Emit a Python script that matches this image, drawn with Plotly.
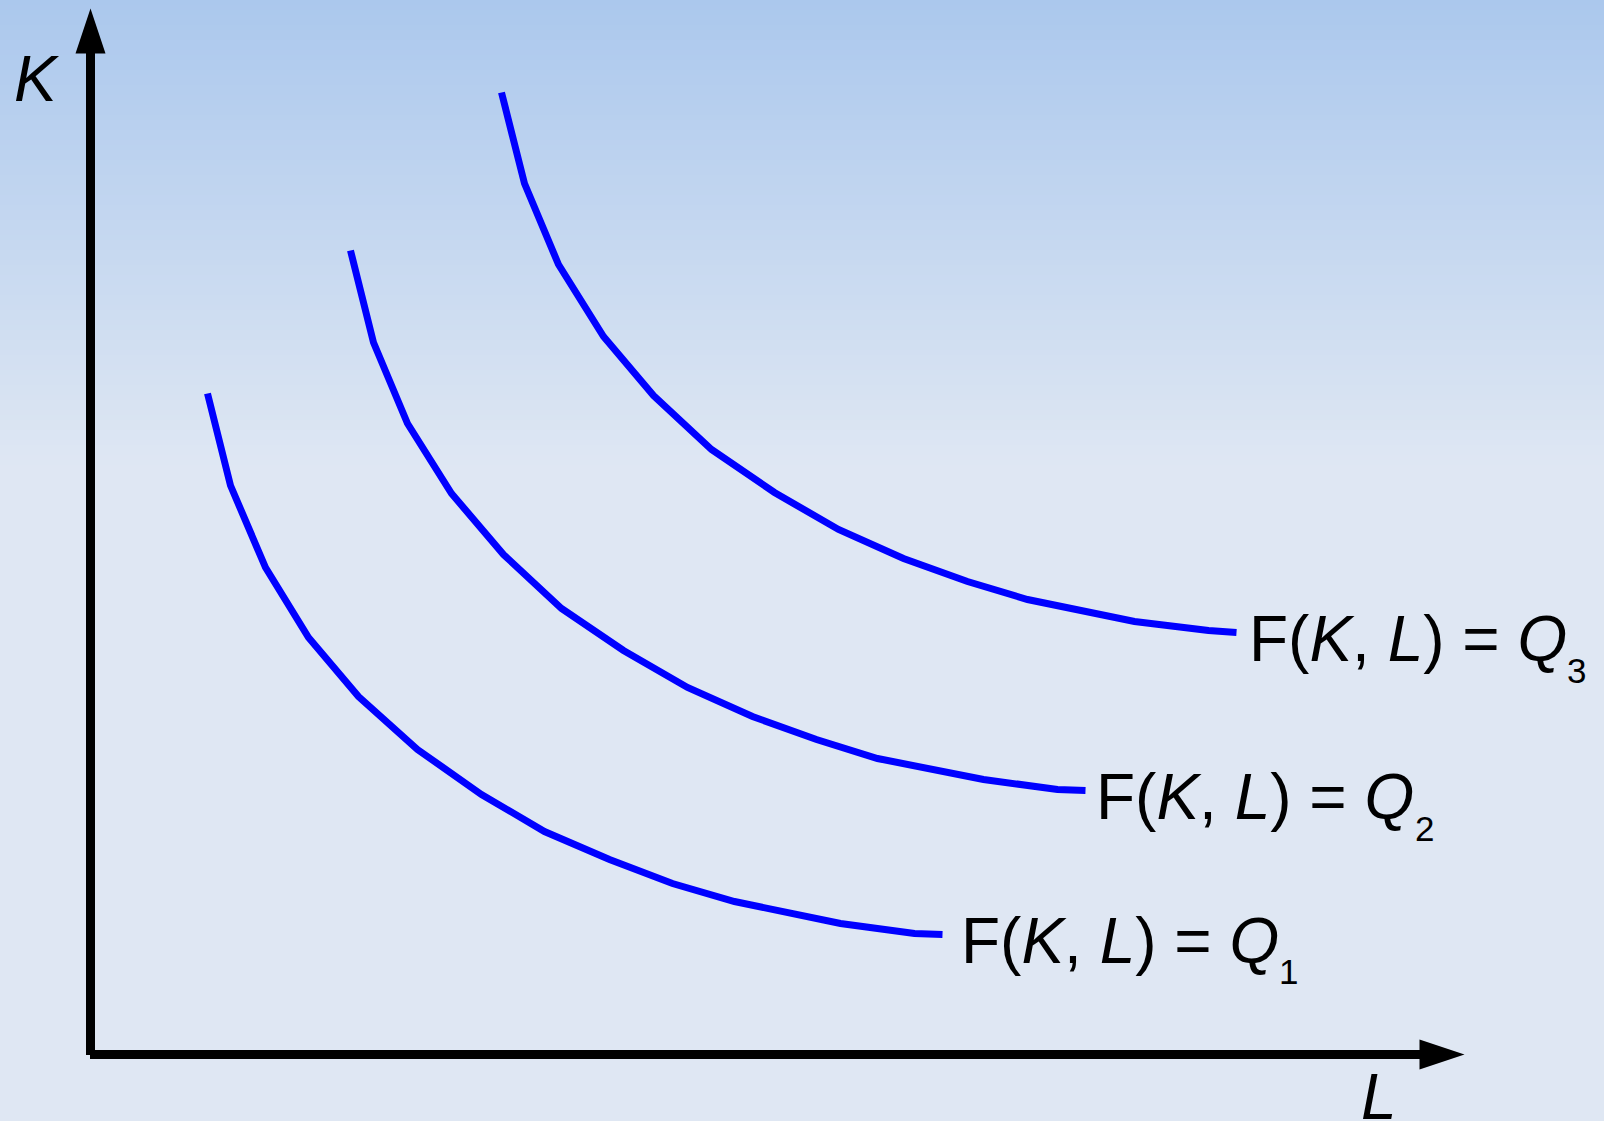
import plotly.graph_objects as go

# ---------------- data (L = labour, K = capital) ----------------
L1 = [1.17, 1.40, 1.75, 2.18, 2.68, 3.27, 3.91, 4.54, 5.19, 5.82, 6.44, 7.50, 8.24, 8.52]
K1 = [6.61, 5.69, 4.87, 4.17, 3.58, 3.05, 2.60, 2.23, 1.95, 1.71, 1.53, 1.31, 1.21, 1.20]

L2 = [2.60, 2.83, 3.17, 3.61, 4.13, 4.71, 5.33, 5.97, 6.62, 7.26, 7.87, 8.93, 9.67, 9.95]
K2 = [8.04, 7.12, 6.31, 5.61, 5.00, 4.46, 4.04, 3.67, 3.38, 3.15, 2.96, 2.75, 2.65, 2.64]

L3 = [4.11, 4.34, 4.68, 5.13, 5.63, 6.21, 6.84, 7.48, 8.13, 8.77, 9.37, 10.44, 11.18, 11.46]
K3 = [9.62, 8.71, 7.90, 7.18, 6.59, 6.05, 5.62, 5.25, 4.96, 4.73, 4.55, 4.33, 4.24, 4.22]

curves = [(L1, K1), (L2, K2), (L3, K3)]

label_main = ["F(<i>K</i>, <i>L</i>) = <i>Q</i>"] * 3
label_sub = ["1", "2", "3"]
label_pos = [(8.68, 1.135), (10.03, 2.571), (11.56, 4.151)]
sub_pos = [(11.977, 0.83), (13.34, 2.26), (14.862, 3.845)]

axis_titles = ["<i>K</i>", "<i>L</i>"]
axis_title_pos = [(-0.54, 9.76), (12.88, -0.42)]

# axis geometry (data units)
L_AXIS_END = 13.30
K_AXIS_END = 10.02
ARROW_LEN = 0.45
ARROW_HALF = 0.15
X_RANGE = [-0.905, 15.135]
Y_RANGE = [-0.665, 10.545]

W, H = 1604, 1121
FONT = "Liberation Sans, Arial, sans-serif"

fig = go.Figure()

for Ls, Ks in curves:
    fig.add_trace(go.Scatter(x=Ls, y=Ks, mode="lines",
                             line=dict(color="#0000ff", width=7),
                             hoverinfo="skip", showlegend=False))

shapes = []
# background gradient (top light blue fading into pale blue-grey)
top_rgb = (171, 200, 237)
bot_rgb = (223, 231, 243)
grad_px = 470
nb = 94
for i in range(nb):
    t = (i + 0.5) / nb
    c = tuple(round(top_rgb[j] + (bot_rgb[j] - top_rgb[j]) * t) for j in range(3))
    y0 = 1 - (i * grad_px / nb) / H
    y1 = 1 - ((i + 1) * grad_px / nb + 1) / H
    shapes.append(dict(type="rect", xref="paper", yref="paper", x0=0, x1=1,
                       y0=y1, y1=y0, fillcolor="rgb(%d,%d,%d)" % c,
                       line=dict(width=0), layer="below"))

# axes lines
shapes.append(dict(type="line", xref="x", yref="y", x0=0, x1=0, y0=-0.005,
                   y1=K_AXIS_END, line=dict(color="black", width=9)))
shapes.append(dict(type="line", xref="x", yref="y", x0=-0.005, x1=L_AXIS_END,
                   y0=0, y1=0, line=dict(color="black", width=9)))
# arrow heads
kb = K_AXIS_END - 0.01
shapes.append(dict(type="path", xref="x", yref="y",
                   path="M %f,%f L %f,%f L %f,%f Z" % (-ARROW_HALF, kb, ARROW_HALF, kb, 0, kb + ARROW_LEN),
                   fillcolor="black", line=dict(width=0)))
lb = L_AXIS_END - 0.01
shapes.append(dict(type="path", xref="x", yref="y",
                   path="M %f,%f L %f,%f L %f,%f Z" % (lb, -ARROW_HALF, lb, ARROW_HALF, lb + ARROW_LEN, 0),
                   fillcolor="black", line=dict(width=0)))

annotations = []
for txt, (x, y) in zip(label_main, label_pos):
    annotations.append(dict(x=x, y=y, xref="x", yref="y", text=txt, showarrow=False,
                            xanchor="left", yanchor="middle",
                            font=dict(family=FONT, size=64, color="black")))
for txt, (x, y) in zip(label_sub, sub_pos):
    annotations.append(dict(x=x, y=y, xref="x", yref="y", text=txt, showarrow=False,
                            xanchor="center", yanchor="middle",
                            font=dict(family=FONT, size=35, color="black")))
for txt, (x, y) in zip(axis_titles, axis_title_pos):
    annotations.append(dict(x=x, y=y, xref="x", yref="y", text=txt, showarrow=False,
                            xanchor="center", yanchor="middle",
                            font=dict(family=FONT, size=64, color="black")))

fig.update_layout(
    width=W, height=H, margin=dict(l=0, r=0, t=0, b=0),
    paper_bgcolor="rgb(223,231,243)", plot_bgcolor="rgba(0,0,0,0)",
    xaxis=dict(range=X_RANGE, visible=False, fixedrange=True),
    yaxis=dict(range=Y_RANGE, visible=False, fixedrange=True),
    shapes=shapes, annotations=annotations, showlegend=False,
)

fig.write_html("out.html", config={"displayModeBar": False},
               post_script="document.body.style.margin='0';document.body.style.overflow='hidden';")
